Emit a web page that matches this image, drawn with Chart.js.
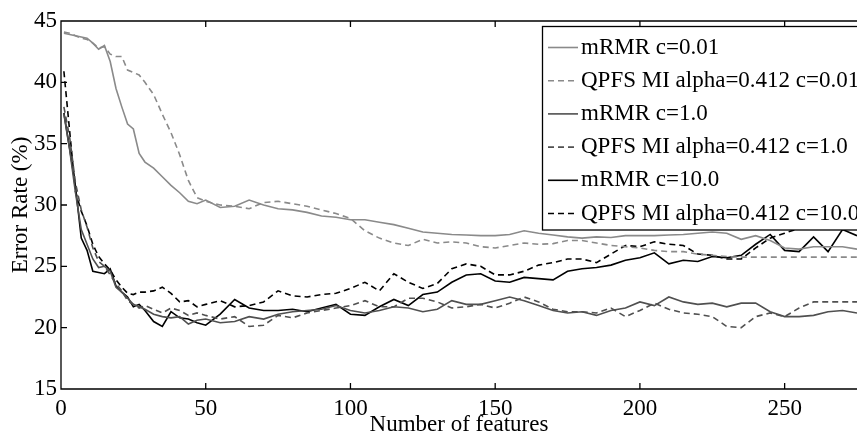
<!DOCTYPE html>
<html>
<head>
<meta charset="utf-8">
<script src="https://cdn.jsdelivr.net/npm/chart.js@4"></script>
<style>
  html, body { margin: 0; padding: 0; background: #fff; }
  #wrap { width: 857px; height: 434px; position: relative; }
</style>
</head>
<body>
<div id="wrap"><canvas id="chart"></canvas></div>
<script>
// number of selected features (x positions of the samples)
const features = [1, 3, 5, 7, 9, 11, 13, 15, 17, 19, 21, 23, 25, 27, 29,
  32, 35, 38, 41, 44, 47, 50,
  55, 60, 65, 70, 75, 80, 85, 90, 95, 100,
  105, 110, 115, 120, 125, 130, 135, 140, 145, 150,
  155, 160, 165, 170, 175, 180, 185, 190, 195, 200,
  205, 210, 215, 220, 225, 230, 235, 240, 245, 250,
  255, 260, 265, 270, 275];

const mrmr001 = [44.0, 43.9, 43.8, 43.7, 43.6, 43.2, 42.7, 43.0, 41.7, 39.5, 38.0, 36.6, 36.2, 34.2, 33.5,
  33.0, 32.3, 31.6, 31.0, 30.3, 30.1, 30.4,
  29.8, 29.9, 30.4, 30.0, 29.7, 29.6, 29.4, 29.1, 29.0, 28.8,
  28.8, 28.6, 28.4, 28.1, 27.8, 27.7, 27.6, 27.55, 27.5, 27.5,
  27.6, 27.9, 27.7, 27.55, 27.4, 27.3, 27.4, 27.35, 27.5, 27.5,
  27.5, 27.55, 27.6, 27.7, 27.8, 27.7, 27.2, 27.5, 27.1, 26.5,
  26.4, 26.6, 26.6, 26.6, 26.4];

const qpfs001 = [44.1, 44.0, 43.8, 43.6, 43.5, 43.2, 42.8, 42.9, 42.3, 42.1, 42.1, 41.0, 40.8, 40.6, 40.0,
  39.0, 37.4, 35.9, 34.1, 32.0, 30.6, 30.3,
  30.0, 29.9, 29.7, 30.2, 30.3, 30.1, 29.9, 29.6, 29.3, 28.9,
  27.9, 27.3, 26.9, 26.7, 27.2, 26.9, 27.0, 26.9, 26.6, 26.5,
  26.7, 26.9, 26.8, 26.85, 27.1, 27.1, 26.9, 26.7, 26.6, 26.5,
  26.3, 26.2, 26.2, 26.0, 25.9, 25.8, 25.75, 25.75, 25.75, 25.75,
  25.75, 25.75, 25.75, 25.75, 25.75];

const mrmr1 = [37.4, 34.5, 31.0, 28.0, 26.8, 25.6, 24.9, 25.0, 24.6, 23.3, 22.9, 22.4, 21.9, 21.7, 21.5,
  21.1, 20.9, 20.8, 20.9, 20.3, 20.6, 20.7,
  20.4, 20.5, 20.9, 20.7, 21.1, 21.3, 21.4, 21.5, 21.8, 21.4,
  21.2, 21.4, 21.7, 21.6, 21.3, 21.5, 22.2, 21.9, 21.9, 22.2,
  22.5, 22.2, 21.8, 21.4, 21.2, 21.3, 21.0, 21.4, 21.6, 22.1,
  21.8, 22.5, 22.1, 21.9, 22.0, 21.7, 22.0, 22.0, 21.3, 20.9,
  20.9, 21.0, 21.3, 21.4, 21.2];

const qpfs1 = [38.0, 35.5, 31.8, 29.6, 28.2, 26.5, 25.4, 25.0, 24.3, 23.6, 23.0, 22.2, 21.9, 21.6, 21.8,
  21.5, 21.2, 21.6, 21.4, 21.0, 21.2, 21.0,
  20.7, 20.9, 20.1, 20.2, 21.0, 20.8, 21.2, 21.4, 21.6, 21.8,
  22.2, 21.7, 21.7, 22.4, 22.4, 22.1, 21.6, 21.7, 21.9, 21.6,
  22.0, 22.5, 22.1, 21.5, 21.3, 21.3, 21.2, 21.6, 20.9, 21.4,
  22.0, 21.5, 21.2, 21.1, 20.9, 20.1, 20.0, 20.9, 21.2, 20.9,
  21.6, 22.1, 22.1, 22.1, 22.1];

const mrmr10 = [37.5, 34.6, 31.5, 27.3, 26.3, 24.6, 24.5, 24.4, 24.8, 23.4, 22.9, 22.5, 21.7, 21.9, 21.4,
  20.5, 20.1, 21.3, 20.8, 20.7, 20.4, 20.2,
  21.1, 22.3, 21.6, 21.4, 21.4, 21.5, 21.3, 21.6, 21.9, 21.1,
  21.0, 21.7, 22.3, 21.8, 22.7, 22.9, 23.7, 24.3, 24.4, 23.8,
  23.7, 24.1, 24.0, 23.9, 24.6, 24.8, 24.9, 25.1, 25.5, 25.7,
  26.1, 25.2, 25.5, 25.4, 25.8, 25.7, 25.9, 26.8, 27.6, 26.3,
  26.2, 27.4, 26.2, 28.0, 27.5];

const qpfs10 = [40.9, 36.0, 31.1, 29.5, 28.3, 26.8, 25.8, 25.2, 24.7, 23.9, 23.3, 22.8, 22.7, 22.9, 22.9,
  23.0, 23.3, 22.8, 22.1, 22.2, 21.7, 21.9,
  22.2, 21.7, 21.8, 22.1, 23.0, 22.6, 22.5, 22.7, 22.8, 23.2,
  23.7, 23.0, 24.4, 23.7, 23.2, 23.6, 24.8, 25.2, 25.0, 24.3,
  24.3, 24.6, 25.1, 25.3, 25.6, 25.6, 25.3, 26.0, 26.7, 26.6,
  27.0, 26.8, 26.7, 26.0, 25.9, 25.6, 25.6, 26.5, 27.3, 27.7,
  28.1, 28.3, 28.2, 28.4, 28.2];

const labels = ["mRMR c=0.01", "QPFS MI alpha=0.412 c=0.01", "mRMR c=1.0",
  "QPFS MI alpha=0.412 c=1.0", "mRMR c=10.0", "QPFS MI alpha=0.412 c=10.0"];
const series = [mrmr001, qpfs001, mrmr1, qpfs1, mrmr10, qpfs10];
const colors = ["#8a8a8a", "#8a8a8a", "#505050", "#505050", "#000000", "#000000"];
const dashed = [false, true, false, true, false, true];

const FONT = "'Liberation Serif', 'Times New Roman', serif";

const datasets = series.map((values, i) => ({
  label: labels[i],
  data: features.map((x, k) => ({ x, y: values[k] })),
  borderColor: colors[i],
  borderWidth: 1.6,
  borderDash: dashed[i] ? [6, 4] : [],
  pointRadius: 0,
  tension: 0,
  fill: false,
}));

// matlab-like frame, inward ticks and a boxed legend in the upper right
const frame = {
  id: "frame",
  afterDatasetsDraw(chart) {
    const { ctx, chartArea: a, scales } = chart;
    ctx.save();
    ctx.strokeStyle = "#000";
    ctx.lineWidth = 1.3;
    ctx.beginPath();
    ctx.moveTo(a.right + 2, a.top);
    ctx.lineTo(a.left, a.top);
    ctx.lineTo(a.left, a.bottom);
    ctx.lineTo(a.right + 2, a.bottom);
    scales.x.ticks.forEach((t) => {
      const px = scales.x.getPixelForValue(t.value);
      ctx.moveTo(px, a.bottom);
      ctx.lineTo(px, a.bottom - 6);
      ctx.moveTo(px, a.top);
      ctx.lineTo(px, a.top + 6);
    });
    scales.y.ticks.forEach((t) => {
      const py = scales.y.getPixelForValue(t.value);
      ctx.moveTo(a.left, py);
      ctx.lineTo(a.left + 6, py);
    });
    ctx.stroke();

    // legend
    const boxL = 542.5, boxT = 26.5, boxB = 230;
    ctx.fillStyle = "#fff";
    ctx.fillRect(boxL, boxT, 400, boxB - boxT);
    ctx.strokeRect(boxL, boxT, 400, boxB - boxT);
    ctx.font = "23px " + FONT;
    ctx.textBaseline = "middle";
    ctx.textAlign = "left";
    chart.data.datasets.forEach((ds, i) => {
      const y = 47.5 + i * 33.2;
      ctx.strokeStyle = ds.borderColor;
      ctx.lineWidth = ds.borderWidth;
      ctx.setLineDash(ds.borderDash);
      ctx.beginPath();
      ctx.moveTo(548, y);
      ctx.lineTo(578, y);
      ctx.stroke();
      ctx.setLineDash([]);
      ctx.fillStyle = "#000";
      ctx.fillText(ds.label, 581, y);
    });
    ctx.restore();
  },
};

new Chart(document.getElementById("chart"), {
  type: "line",
  data: { datasets },
  options: {
    responsive: true,
    maintainAspectRatio: false,
    animation: false,
    layout: { padding: { top: 21, right: 0, left: 0, bottom: 0 } },
    plugins: { legend: { display: false }, tooltip: { enabled: false } },
    scales: {
      x: {
        type: "linear",
        min: 0,
        max: 275,
        grid: { display: false, drawTicks: false, tickLength: 0 },
        border: { display: false },
        ticks: { stepSize: 50, includeBounds: false, padding: 6, color: "#000", maxRotation: 0,
          font: { family: FONT, size: 23 } },
        title: { display: true, text: "Number of features", color: "#000",
          font: { family: FONT, size: 23, lineHeight: 0.8 }, padding: { top: 0, bottom: 0 } },
        afterFit(scale) { scale.height = 45; },
      },
      y: {
        min: 15,
        max: 45,
        grid: { display: false, drawTicks: false, tickLength: 0 },
        border: { display: false },
        ticks: { stepSize: 5, padding: 4, color: "#000", font: { family: FONT, size: 23 } },
        title: { display: true, text: "Error Rate (%)", color: "#000",
          font: { family: FONT, size: 23, lineHeight: 1 }, padding: { top: 9, bottom: 0 } },
        afterFit(scale) { scale.width = 61; },
      },
    },
  },
  plugins: [frame],
});
</script>
</body>
</html>
